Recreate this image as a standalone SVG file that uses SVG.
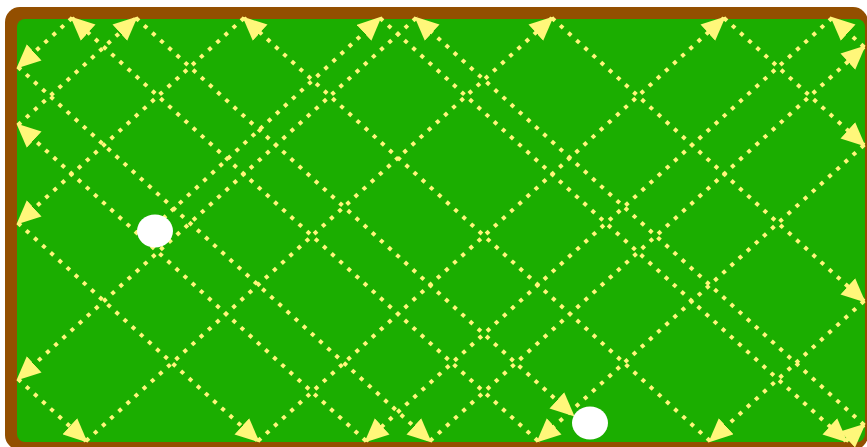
<svg xmlns="http://www.w3.org/2000/svg" width="867" height="447" viewBox="0 0 867 447">
<style>
.seg{stroke:#fff77a;stroke-width:4;stroke-dasharray:4 7;fill:none;marker-end:url(#ah)}
.ball{fill:#ffffff}
</style>
<defs>
<marker id="ah" markerUnits="userSpaceOnUse" markerWidth="24" markerHeight="22" viewBox="0 0 22 20" refX="20" refY="10" orient="auto">
<path d="M0,0 L22,10 L0,20 z" fill="#fff77a"/>
</marker>
</defs>
<rect width="867" height="447" fill="#ffffff"/>
<g id="table">
<rect x="5" y="7" width="863" height="443" rx="15" fill="#934f00"/>
<rect x="17" y="19" width="848" height="423" rx="8" fill="#1bae00"/>
</g>
<g id="connectors">
<line class="seg" x1="155" y1="226" x2="380" y2="18"/>
<line class="seg" x1="380" y1="18" x2="846" y2="441"/>
<line class="seg" x1="846" y1="441" x2="864" y2="425"/>
<line class="seg" x1="864" y1="425" x2="416" y2="18"/>
<line class="seg" x1="416" y1="18" x2="18" y2="379"/>
<line class="seg" x1="18" y1="379" x2="86" y2="441"/>
<line class="seg" x1="86" y1="441" x2="552" y2="18"/>
<line class="seg" x1="552" y1="18" x2="864" y2="301"/>
<line class="seg" x1="864" y1="301" x2="710" y2="441"/>
<line class="seg" x1="710" y1="441" x2="244" y2="18"/>
<line class="seg" x1="244" y1="18" x2="18" y2="223"/>
<line class="seg" x1="18" y1="223" x2="258" y2="441"/>
<line class="seg" x1="258" y1="441" x2="724" y2="18"/>
<line class="seg" x1="724" y1="18" x2="864" y2="145"/>
<line class="seg" x1="864" y1="145" x2="538" y2="441"/>
<line class="seg" x1="538" y1="441" x2="72" y2="18"/>
<line class="seg" x1="72" y1="18" x2="18" y2="67"/>
<line class="seg" x1="18" y1="67" x2="430" y2="441"/>
<line class="seg" x1="430" y1="441" x2="864" y2="47"/>
<line class="seg" x1="864" y1="47" x2="832" y2="18"/>
<line class="seg" x1="832" y1="18" x2="366" y2="441"/>
<line class="seg" x1="366" y1="441" x2="18" y2="125"/>
<line class="seg" x1="18" y1="125" x2="136" y2="18"/>
<line class="seg" x1="136" y1="18" x2="573" y2="415"/>
</g>
<g id="ball-start"><ellipse class="ball" cx="155" cy="231" rx="18" ry="16.5"/></g>
<g id="ball-end"><ellipse class="ball" cx="590" cy="423" rx="18" ry="16.5"/></g>
</svg>
